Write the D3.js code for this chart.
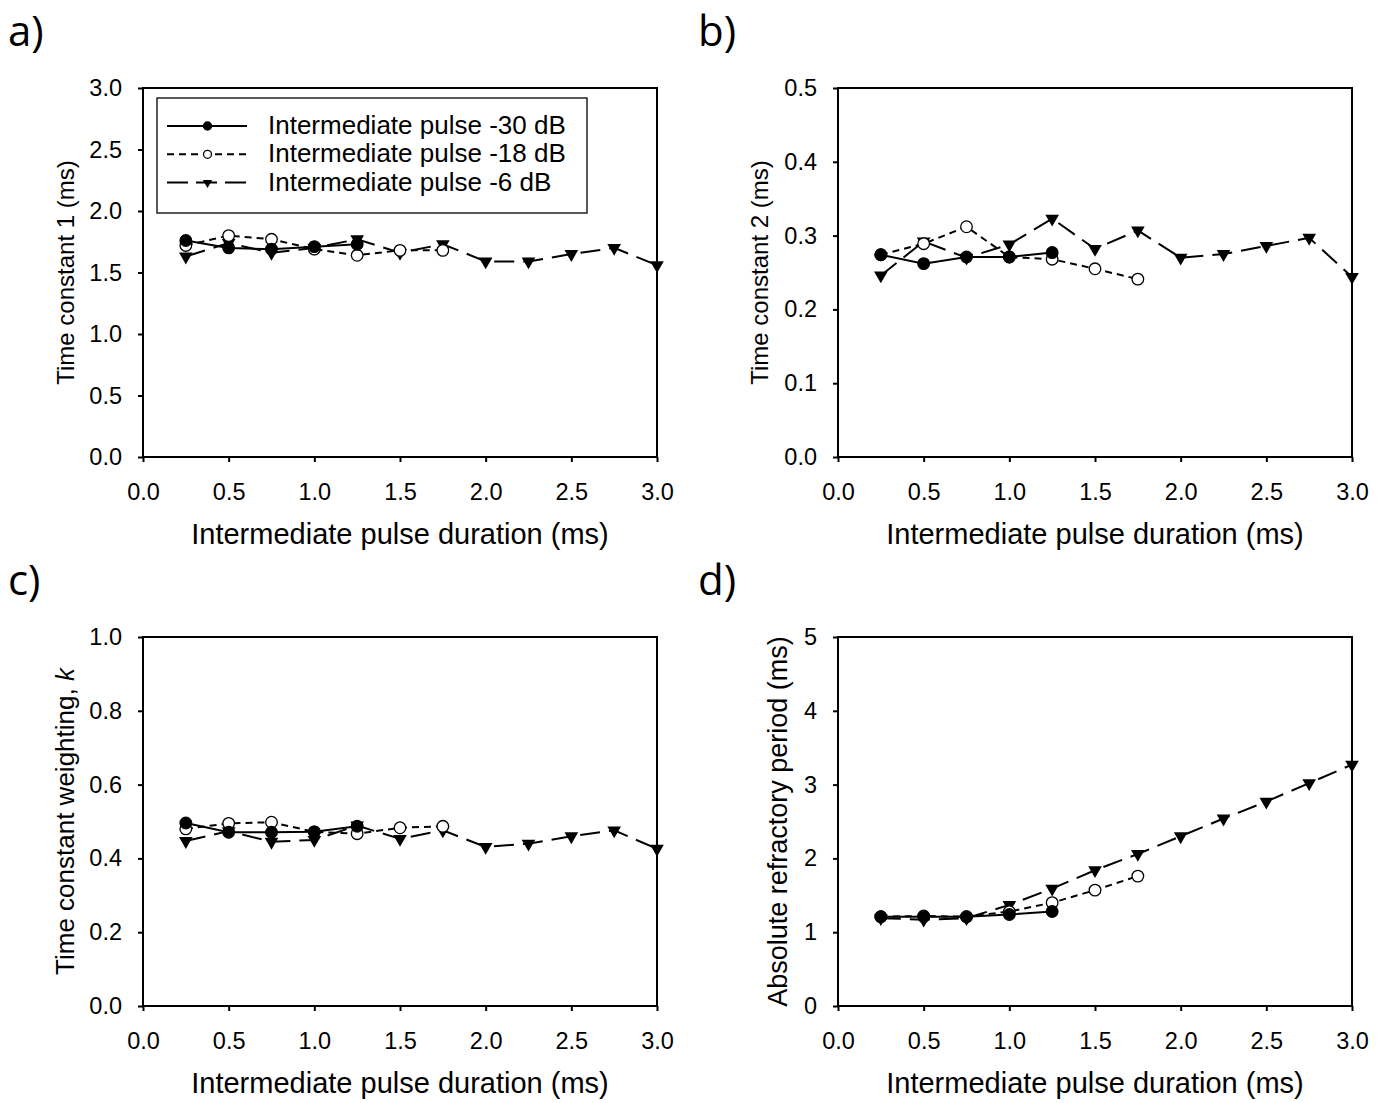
<!DOCTYPE html>
<html>
<head>
<meta charset="utf-8">
<script src="https://cdn.jsdelivr.net/npm/d3@7"></script>
<style>
  body { margin: 0; background: #fff; }
  svg text { font-family: "Liberation Sans", Arial, sans-serif; fill: #000; }
</style>
</head>
<body>
<div class="canvas"></div>
<script>
/**
 * Data
 */
const durations = [0.25, 0.5, 0.75, 1.0, 1.25, 1.5, 1.75, 2.0, 2.25, 2.5, 2.75, 3.0]
const seriesNames = ["Intermediate pulse -30 dB", "Intermediate pulse -18 dB", "Intermediate pulse -6 dB"]

// a) time constant 1
const tc1_30 = [1.76, 1.70, 1.69, 1.71, 1.73]
const tc1_18 = [1.72, 1.80, 1.77, 1.69, 1.64, 1.68, 1.68]
const tc1_6  = [1.63, 1.74, 1.66, 1.70, 1.77, 1.66, 1.73, 1.59, 1.59, 1.65, 1.70, 1.56]

// b) time constant 2
const tc2_30 = [0.274, 0.262, 0.271, 0.271, 0.277]
const tc2_18 = [0.274, 0.289, 0.312, 0.271, 0.268, 0.255, 0.241]
const tc2_6  = [0.246, 0.292, 0.270, 0.288, 0.323, 0.282, 0.307, 0.270, 0.275, 0.286, 0.297, 0.244]

// c) weighting k
const k_30 = [0.496, 0.471, 0.471, 0.472, 0.487]
const k_18 = [0.480, 0.495, 0.498, 0.472, 0.467, 0.483, 0.487]
const k_6  = [0.447, 0.474, 0.445, 0.450, 0.489, 0.453, 0.476, 0.431, 0.440, 0.460, 0.476, 0.426]

// d) absolute refractory period
const arp_30 = [1.21, 1.21, 1.21, 1.24, 1.28]
const arp_18 = [1.21, 1.22, 1.21, 1.28, 1.40, 1.57, 1.76]
const arp_6  = [1.19, 1.17, 1.19, 1.37, 1.59, 1.84, 2.06, 2.30, 2.54, 2.77, 3.02, 3.27]

const xTicks = [0, 0.5, 1, 1.5, 2, 2.5, 3]

/**
 * Layout
 */
const W = 1394, H = 1103
const pw = 514, ph = 369

const panels = [
  { id: "a)", lx: 8, x: 143, y: 88, ymax: 3.0, ystep: 0.5, fmt: d3.format(".1f"), title: "Time constant 1 (ms)", tx: 74, ts: 24,
    data: [tc1_30, tc1_18, tc1_6], legend: true },
  { id: "b)", lx: 698, x: 838, y: 88, ymax: 0.5, ystep: 0.1, fmt: d3.format(".1f"), title: "Time constant 2 (ms)", tx: 768, ts: 24,
    data: [tc2_30, tc2_18, tc2_6] },
  { id: "c)", lx: 8, x: 143, y: 637, ymax: 1.0, ystep: 0.2, fmt: d3.format(".1f"), title: "Time constant weighting, ", italic: "k", tx: 74, ts: 26,
    data: [k_30, k_18, k_6] },
  { id: "d)", lx: 698, x: 838, y: 637, ymax: 5, ystep: 1, fmt: d3.format("d"), title: "Absolute refractory period (ms)", tx: 787, ts: 27,
    data: [arp_30, arp_18, arp_6] }
]

// line style per series
const styles = [
  { dash: null, marker: "filled" },
  { dash: "7,5", marker: "open" },
  { dash: "20,9", marker: "tri" }
]

const svg = d3.select(".canvas")
  .append("svg")
  .attr("width", W)
  .attr("height", H)

const drawMarker = (sel, kind, r) => {
  if (kind === "tri") {
    sel.append("path")
      .attr("d", d3.symbol().type(d3.symbolTriangle).size(r * r * 2.4)())
      .attr("transform", "rotate(180)")
      .attr("fill", "#000")
  } else {
    sel.append("circle")
      .attr("r", r)
      .attr("fill", kind === "filled" ? "#000" : "#fff")
      .attr("stroke", "#000")
      .attr("stroke-width", 1.3)
  }
}

panels.forEach(p => {
  const g = svg.append("g").attr("transform", `translate(${p.x},${p.y})`)

  const x = d3.scaleLinear().domain([0, 3]).range([0, pw])
  const y = d3.scaleLinear().domain([0, p.ymax]).range([ph, 0])
  const yTicks = d3.range(0, p.ymax + p.ystep / 2, p.ystep)

  // panel letter
  svg.append("text")
    .attr("x", p.lx).attr("y", p.y - 42)
    .style("font-family", "'Open Sans', sans-serif")
    .style("font-size", "42px")
    .text(p.id)

  // axes
  const xAxis = d3.axisBottom(x).tickValues(xTicks).tickFormat(d3.format(".1f")).tickSizeInner(5).tickSizeOuter(0).tickPadding(21)
  const yAxis = d3.axisLeft(y).tickValues(yTicks).tickFormat(p.fmt).tickSizeInner(5).tickSizeOuter(0).tickPadding(16)

  const gx = g.append("g").attr("transform", `translate(0,${ph})`).call(xAxis)
  const gy = g.append("g").call(yAxis)
  ;[gx, gy].forEach(a => {
    a.select(".domain").remove()
    a.selectAll("line").attr("stroke", "#000").attr("stroke-width", 2)
    a.selectAll("text").style("font-size", "23.5px").style("font-family", "'Liberation Sans', Arial, sans-serif")
  })

  // frame
  g.append("rect")
    .attr("width", pw).attr("height", ph)
    .attr("fill", "none").attr("stroke", "#000").attr("stroke-width", 2)

  // axis titles
  g.append("text")
    .attr("x", pw / 2).attr("y", ph + 87)
    .attr("text-anchor", "middle")
    .style("font-size", "29px")
    .text("Intermediate pulse duration (ms)")

  const yt = svg.append("text")
    .attr("transform", `translate(${p.tx},${p.y + ph / 2}) rotate(-90)`)
    .attr("text-anchor", "middle")
    .style("font-size", p.ts + "px")
    .text(p.title)
  if (p.italic) yt.append("tspan").style("font-style", "italic").text(p.italic)

  // series (draw -6 first, -30 last so filled points sit on top)
  const line = d3.line().x((d, i) => x(durations[i])).y(d => y(d))
  const order = [2, 1, 0]
  order.forEach(s => {
    g.append("path")
      .datum(p.data[s])
      .attr("d", line)
      .attr("fill", "none")
      .attr("stroke", "#000")
      .attr("stroke-width", 2)
      .attr("stroke-dasharray", styles[s].dash)
  })
  order.forEach(s => {
    p.data[s].forEach((v, i) => {
      const m = g.append("g").attr("transform", `translate(${x(durations[i])},${y(v)})`)
      drawMarker(m, styles[s].marker, 5.8)
    })
  })

  // legend
  if (p.legend) {
    const lg = g.append("g").attr("transform", "translate(14,10)")
    lg.append("rect")
      .attr("width", 430).attr("height", 115)
      .attr("fill", "#fff").attr("stroke", "#000").attr("stroke-width", 1.3)
    seriesNames.forEach((name, s) => {
      const row = lg.append("g").attr("transform", `translate(0,${28 + s * 28.3})`)
      row.append("line")
        .attr("x1", 10).attr("x2", 90)
        .attr("stroke", "#000").attr("stroke-width", 2)
        .attr("stroke-dasharray", s === 0 ? null : (s === 1 ? "7,5" : "21,8"))
      const m = row.append("g").attr("transform", "translate(50.5,0)")
      drawMarker(m, styles[s].marker, 4)
      row.append("text")
        .attr("x", 111).attr("y", 8)
        .style("font-size", "26px")
        .text(name)
    })
  }
})
</script>
</body>
</html>
